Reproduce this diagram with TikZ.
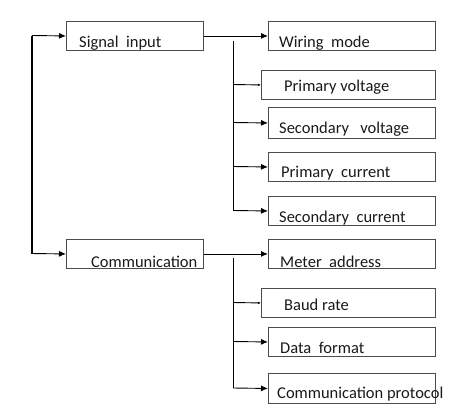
\documentclass[tikz,border=0pt]{standalone}
\usepackage{fontspec}
\setmainfont{Carlito}
\usetikzlibrary{arrows.meta}
\begin{document}
\begin{tikzpicture}[x=1pt,y=-1pt,
  box/.style={draw=black!70,line width=0.9pt,anchor=north west,inner sep=0pt,minimum height=29pt},
  lbl/.style={anchor=base west,inner sep=0pt,font=\fontsize{16.5}{18}\selectfont,text=black!90},
  conn/.style={line width=0.9pt,-{Latex[length=7pt,width=6pt]}},
  conns/.style={line width=0.9pt,-{Latex[length=3pt,width=2.5pt]}},
  plain/.style={line width=0.9pt}]
\useasboundingbox (0,0) rectangle (470,413);
% boxes
\node[box,minimum width=137pt] (sig) at (66,21) {};
\node[box,minimum width=137pt] (com) at (66,239) {};
\node[box,minimum width=167pt] (wm) at (268,21) {};
\node[box,minimum width=174pt] (pv) at (261,70) {};
\node[box,minimum width=167pt,minimum height=31pt] (sv) at (268,107) {};
\node[box,minimum width=167pt] (pc) at (268,152) {};
\node[box,minimum width=167pt] (sc) at (268,196) {};
\node[box,minimum width=167pt] (ma) at (268,239) {};
\node[box,minimum width=174pt] (br) at (261,288) {};
\node[box,minimum width=167pt] (df) at (268,327) {};
\node[box,minimum width=167pt,minimum height=30pt] (cp) at (268,373) {};
% labels
\node[lbl] (tsig) at (79,47) {Signal\ \ input};
\node[lbl] (tcom) at (91,267) {Communication};
\node[lbl] (twm) at (279,47) {Wiring\ \ mode};
\node[lbl] (tpv) at (284,91) {Primary voltage};
\node[lbl] (tsv) at (279,133) {Secondary\ \ \ voltage};
\node[lbl] (tpc) at (281,177) {Primary\ \ current};
\node[lbl] (tsc) at (279,222) {Secondary\ \ current};
\node[lbl] (tma) at (280,267) {Meter\ \ address};
\node[lbl] (tbr) at (284,310) {Baud rate};
\node[lbl] (tdf) at (280,353) {Data\ \ format};
\node[lbl] (tcp) at (277,398) {Communication protocol};
% left trunk
\coordinate (lt) at (32,35.5);
\coordinate (lb) at (32,253.5);
\draw[plain,line width=1.2pt] (lt) -- (lb);
\draw[conn] (lt) -- (sig.west);
\draw[conn] (lb) -- (com.west);
% main links
\draw[conn] (sig.east) -- (wm.west);
\draw[conn] (com.east) -- (ma.west);
% upper branch
\coordinate (v1) at (233,41);
\coordinate (v1b) at (233,210.5);
\draw[plain] (v1) -- (v1b);
\draw[conns] (233,84.5) -- (pv.west);
\draw[conn] (233,122.5) -- (sv.west);
\draw[conn] (233,166.5) -- (pc.west);
\draw[conn] (v1b) -- (sc.west);
% lower branch
\coordinate (v2) at (233,258);
\coordinate (v2b) at (233,388);
\draw[plain] (v2) -- (v2b);
\draw[conns] (233,302.5) -- (br.west);
\draw[conn] (233,341.5) -- (df.west);
\draw[conn] (v2b) -- (cp.west);
\end{tikzpicture}
\end{document}
